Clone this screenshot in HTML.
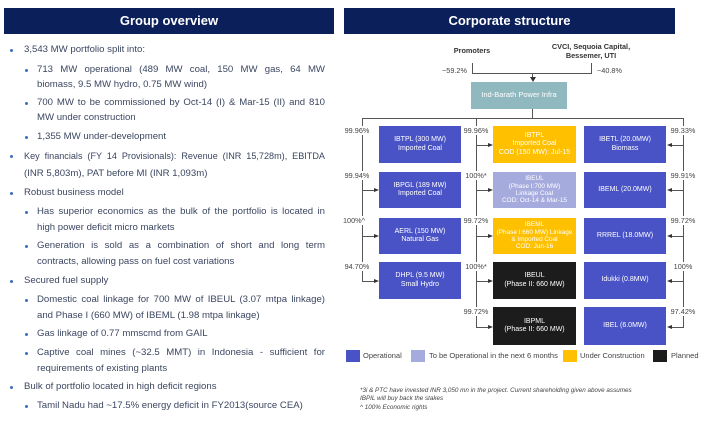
<!DOCTYPE html>
<html><head><meta charset="utf-8"><style>
*{margin:0;padding:0;box-sizing:border-box}
body{width:702px;height:423px;background:#fff;position:relative;overflow:hidden;font-family:"Liberation Sans",Arial,sans-serif}
.hdr{position:absolute;top:8px;height:26px;background:#0b1f5a;color:#fff;font-weight:bold;font-size:13px;text-align:center;line-height:26px}
.l{position:absolute;font-size:9.6px;color:#3b4660;white-space:nowrap;line-height:12px}
.j{white-space:normal;text-align:justify;text-align-last:justify;height:12px;overflow:hidden}
.b{position:absolute;width:3px;height:3px;background:#3c6fb5;border-radius:50%}
.bx{position:absolute;color:#fff;font-size:7px;text-align:center;display:flex;align-items:center;justify-content:center;line-height:8.5px;overflow:hidden}
.sm{font-size:6.4px;line-height:7.4px}
.op{background:#4953c6}.lt{background:#a6abde}.uc{background:#ffc000}.pl{background:#1c1c1c}
.p{position:absolute;font-size:7.3px;color:#444;text-align:center;background:#fff;padding:0 1px;transform:translateX(-50%);line-height:9px}
.ln{position:absolute;background:#555}
.ar{position:absolute;width:0;height:0;border-top:2.5px solid transparent;border-bottom:2.5px solid transparent}
.ar.r{border-left:5px solid #333}.ar.lf{border-right:5px solid #333}
.lg{position:absolute;top:350px;width:14px;height:12px}
.lgt{position:absolute;top:351px;font-size:7.5px;color:#444}
.fn{position:absolute;left:360px;font-size:6.3px;font-style:italic;color:#444}
</style></head><body>
<div class="hdr" style="left:4px;width:330px">Group overview</div>
<div class="hdr" style="left:344px;width:331px">Corporate structure</div>

<div class="b" style="left:10px;top:49px"></div><div class="l" style="left:24px;top:44px">3,543 MW portfolio split into:</div>
<div class="b" style="left:25px;top:69px"></div><div class="l j" style="left:37px;top:64px;width:288px">713 MW operational (489 MW coal, 150 MW gas, 64 MW</div>
<div class="l" style="left:37px;top:79px">biomass, 9.5 MW hydro, 0.75 MW wind)</div>
<div class="b" style="left:25px;top:102px"></div><div class="l j" style="left:37px;top:97px;width:288px">700 MW to be commissioned by Oct-14 (I) &amp; Mar-15 (II) and 810</div>
<div class="l" style="left:37px;top:112px">MW under construction</div>
<div class="b" style="left:25px;top:136px"></div><div class="l" style="left:37px;top:131px">1,355 MW under-development</div>
<div class="b" style="left:10px;top:155px"></div><div class="l j" style="left:24px;top:150px;width:301px;font-size:9.1px">Key financials (FY 14 Provisionals): Revenue (INR 15,728m), EBITDA</div>
<div class="l" style="left:24px;top:168px">(INR 5,803m), PAT before MI (INR 1,093m)</div>
<div class="b" style="left:10px;top:192px"></div><div class="l" style="left:24px;top:187px">Robust business model</div>
<div class="b" style="left:25px;top:211px"></div><div class="l j" style="left:37px;top:206px;width:288px">Has superior economics as the bulk of the portfolio is located in</div>
<div class="l" style="left:37px;top:222px">high power deficit micro markets</div>
<div class="b" style="left:25px;top:245px"></div><div class="l j" style="left:37px;top:240px;width:288px">Generation is sold as a combination of short and long term</div>
<div class="l" style="left:37px;top:256px">contracts, allowing pass on fuel cost variations</div>
<div class="b" style="left:10px;top:280px"></div><div class="l" style="left:24px;top:275px">Secured fuel supply</div>
<div class="b" style="left:25px;top:299px"></div><div class="l j" style="left:37px;top:294px;width:288px">Domestic coal linkage for 700 MW of IBEUL (3.07 mtpa linkage)</div>
<div class="l" style="left:37px;top:310px">and Phase I (660 MW) of IBEML (1.98 mtpa linkage)</div>
<div class="b" style="left:25px;top:333px"></div><div class="l" style="left:37px;top:328px">Gas linkage of 0.77 mmscmd from GAIL</div>
<div class="b" style="left:25px;top:352px"></div><div class="l j" style="left:37px;top:347px;width:288px">Captive coal mines (~32.5 MMT) in Indonesia - sufficient for</div>
<div class="l" style="left:37px;top:363px">requirements of existing plants</div>
<div class="b" style="left:10px;top:386px"></div><div class="l" style="left:24px;top:381px">Bulk of portfolio located in high deficit regions</div>
<div class="b" style="left:25px;top:405px"></div><div class="l" style="left:37px;top:400px">Tamil Nadu had ~17.5% energy deficit in FY2013(source CEA)</div>

<!-- chart top -->
<div style="position:absolute;left:440px;top:46px;width:64px;text-align:center;font-size:7.3px;font-weight:bold;color:#333">Promoters</div>
<div style="position:absolute;left:546px;top:42px;width:90px;text-align:center;font-size:7.3px;font-weight:bold;color:#333;line-height:9px">CVCI, Sequoia Capital,<br>Bessemer, UTI</div>
<div style="position:absolute;left:442px;top:66px;font-size:7.3px;color:#444">~59.2%</div>
<div style="position:absolute;left:597px;top:66px;font-size:7.3px;color:#444">~40.8%</div>
<div class="ln" style="left:472px;top:63px;width:1px;height:10px"></div>
<div class="ln" style="left:591px;top:63px;width:1px;height:10px"></div>
<div class="ln" style="left:472px;top:73px;width:120px;height:1px"></div>
<div class="ln" style="left:532px;top:73px;width:1px;height:5px"></div>
<div style="position:absolute;left:529.5px;top:77px;border-left:3px solid transparent;border-right:3px solid transparent;border-top:5px solid #333"></div>
<div class="bx" style="left:471px;top:82px;width:96px;height:27px;background:#8fb8bf;font-size:7.5px">Ind-Barath Power Infra</div>
<div class="ln" style="left:532px;top:109px;width:1px;height:9px"></div>
<div class="ln" style="left:362px;top:118px;width:322px;height:1px"></div>
<div class="ln" style="left:362px;top:118px;width:1px;height:164px"></div>
<div class="ln" style="left:476px;top:118px;width:1px;height:209px"></div>
<div class="ln" style="left:683px;top:118px;width:1px;height:209px"></div>

<div class="ln" style="left:362px;top:190px;width:12px;height:1px"></div><div class="ar r" style="left:374px;top:187.5px"></div>
<div class="ln" style="left:362px;top:236px;width:12px;height:1px"></div><div class="ar r" style="left:374px;top:233.5px"></div>
<div class="ln" style="left:362px;top:281px;width:12px;height:1px"></div><div class="ar r" style="left:374px;top:278.5px"></div>
<div class="ln" style="left:476px;top:145px;width:12px;height:1px"></div><div class="ar r" style="left:488px;top:142.5px"></div>
<div class="ln" style="left:476px;top:190px;width:12px;height:1px"></div><div class="ar r" style="left:488px;top:187.5px"></div>
<div class="ln" style="left:476px;top:236px;width:12px;height:1px"></div><div class="ar r" style="left:488px;top:233.5px"></div>
<div class="ln" style="left:476px;top:281px;width:12px;height:1px"></div><div class="ar r" style="left:488px;top:278.5px"></div>
<div class="ln" style="left:476px;top:327px;width:12px;height:1px"></div><div class="ar r" style="left:488px;top:324.5px"></div>
<div class="ln" style="left:672px;top:145px;width:12px;height:1px"></div><div class="ar lf" style="left:667px;top:142.5px"></div>
<div class="ln" style="left:672px;top:190px;width:12px;height:1px"></div><div class="ar lf" style="left:667px;top:187.5px"></div>
<div class="ln" style="left:672px;top:236px;width:12px;height:1px"></div><div class="ar lf" style="left:667px;top:233.5px"></div>
<div class="ln" style="left:672px;top:281px;width:12px;height:1px"></div><div class="ar lf" style="left:667px;top:278.5px"></div>
<div class="ln" style="left:672px;top:327px;width:12px;height:1px"></div><div class="ar lf" style="left:667px;top:324.5px"></div>

<div class="p" style="left:357px;top:126px">99.96%</div>
<div class="p" style="left:357px;top:171px">99.94%</div>
<div class="p" style="left:354px;top:216px">100%^</div>
<div class="p" style="left:357px;top:262px">94.70%</div>
<div class="p" style="left:476px;top:126px">99.96%</div>
<div class="p" style="left:476px;top:171px">100%*</div>
<div class="p" style="left:476px;top:216px">99.72%</div>
<div class="p" style="left:476px;top:262px">100%*</div>
<div class="p" style="left:476px;top:307px">99.72%</div>
<div class="p" style="left:683px;top:126px">99.33%</div>
<div class="p" style="left:683px;top:171px">99.91%</div>
<div class="p" style="left:683px;top:216px">99.72%</div>
<div class="p" style="left:683px;top:262px">100%</div>
<div class="p" style="left:683px;top:307px">97.42%</div>

<div class="bx op" style="left:379px;top:126px;width:82px;height:37px">IBTPL (300 MW)<br>Imported Coal</div>
<div class="bx op" style="left:379px;top:172px;width:82px;height:36px">IBPGL (189 MW)<br>Imported Coal</div>
<div class="bx op" style="left:379px;top:218px;width:82px;height:36px">AERL (150 MW)<br>Natural Gas</div>
<div class="bx op" style="left:379px;top:262px;width:82px;height:37px">DHPL (9.5 MW)<br>Small Hydro</div>

<div class="bx uc" style="left:493px;top:126px;width:83px;height:37px">IBTPL<br>Imported Coal<br>COD (150 MW): Jul-15</div>
<div class="bx lt sm" style="left:493px;top:172px;width:83px;height:36px">IBEUL<br>(Phase I:700 MW)<br>Linkage Coal<br>COD: Oct-14 &amp; Mar-15</div>
<div class="bx uc sm" style="left:493px;top:218px;width:83px;height:36px">IBEML<br>(Phase I:660 MW) Linkage<br>&amp; Imported Coal<br>COD: Jun-16</div>
<div class="bx pl" style="left:493px;top:262px;width:83px;height:37px">IBEUL<br>(Phase II: 660 MW)</div>
<div class="bx pl" style="left:493px;top:307px;width:83px;height:38px">IBPML<br>(Phase II: 660 MW)</div>

<div class="bx op" style="left:584px;top:126px;width:82px;height:37px">IBETL (20.0MW)<br>Biomass</div>
<div class="bx op" style="left:584px;top:172px;width:82px;height:36px">IBEML (20.0MW)</div>
<div class="bx op" style="left:584px;top:218px;width:82px;height:36px">RRREL (18.0MW)</div>
<div class="bx op" style="left:584px;top:262px;width:82px;height:37px">Idukki (0.8MW)</div>
<div class="bx op" style="left:584px;top:307px;width:82px;height:38px">IBEL (6.0MW)</div>

<div class="lg op" style="left:346px"></div><div class="lgt" style="left:363px">Operational</div>
<div class="lg lt" style="left:411px"></div><div class="lgt" style="left:429px">To be Operational in the next 6 months</div>
<div class="lg uc" style="left:563px"></div><div class="lgt" style="left:580px">Under Construction</div>
<div class="lg pl" style="left:653px"></div><div class="lgt" style="left:671px">Planned</div>

<div class="fn" style="top:387px">*3i &amp; PTC have invested INR 3,050 mn in the project. Current shareholding given above assumes</div>
<div class="fn" style="top:395px">IBPIL will buy back the stakes</div>
<div class="fn" style="top:404px">^ 100% Economic rights</div>
</body></html>
